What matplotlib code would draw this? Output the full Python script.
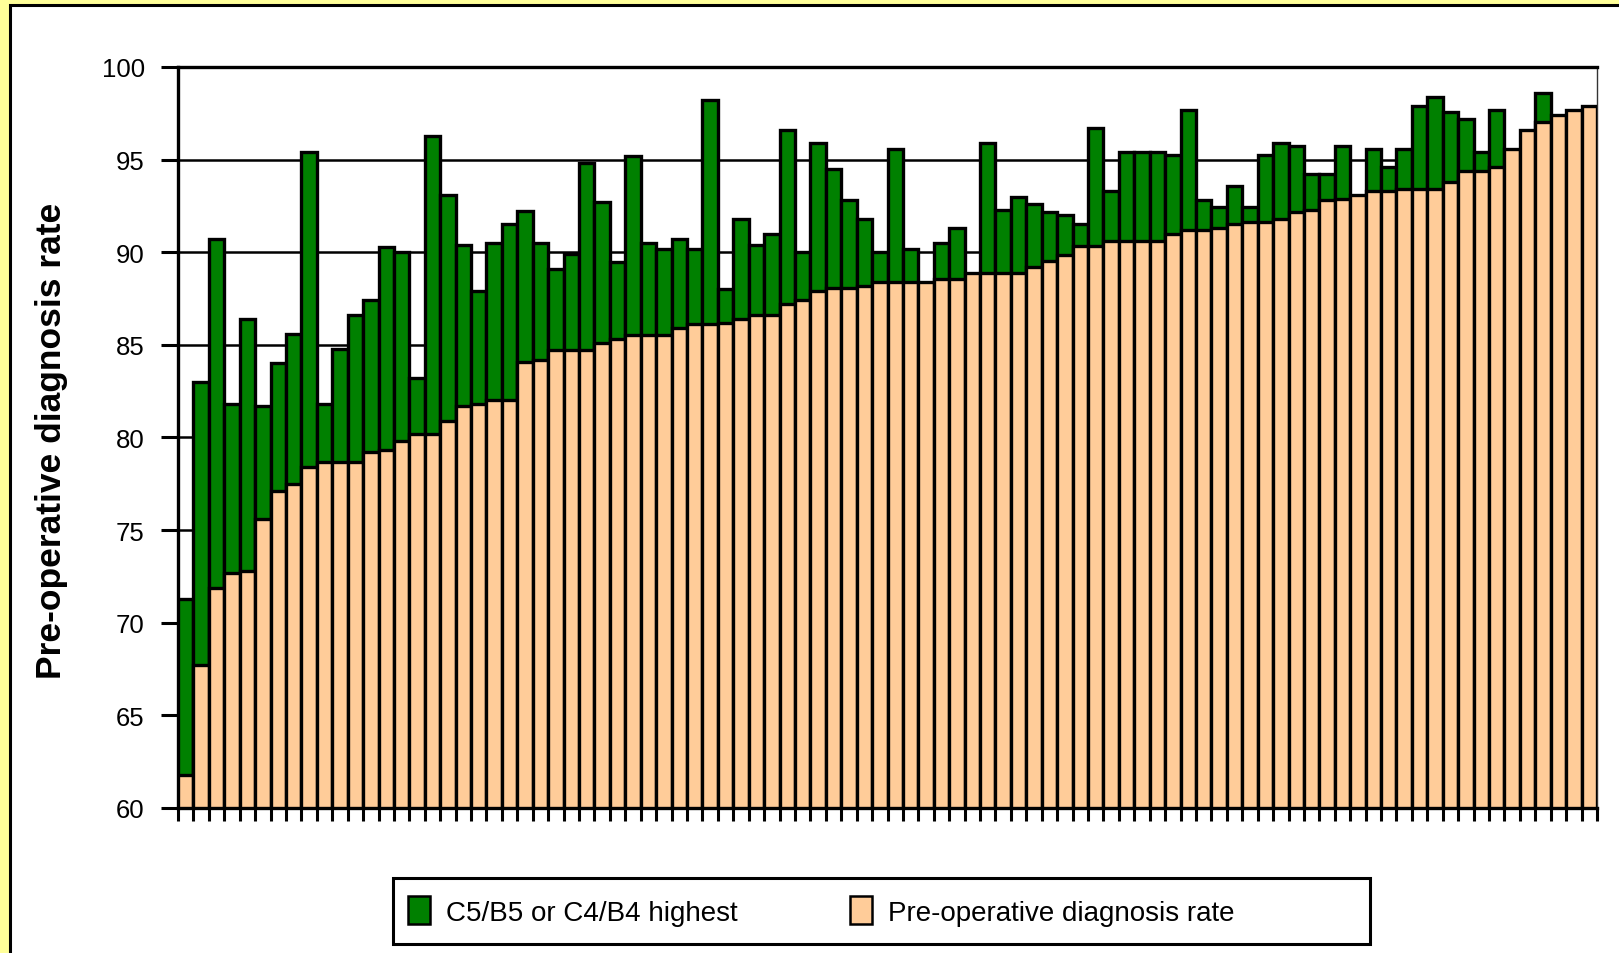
import numpy as np
import matplotlib
matplotlib.use("Agg")
import matplotlib.pyplot as plt
from matplotlib.patches import Patch, Rectangle

# Pre-operative diagnosis rate (orange) per unit, sorted ascending
preop_rate = [61.8, 67.7, 71.9, 72.7, 72.8, 75.6, 77.1, 77.5, 78.4, 78.7,
              78.7, 78.7, 79.2, 79.3, 79.8, 80.2, 80.2, 80.9, 81.7, 81.8,
              82.0, 82.0, 84.1, 84.2, 84.7, 84.7, 84.7, 85.1, 85.3, 85.55,
              85.55, 85.55, 85.9, 86.1, 86.1, 86.2, 86.4, 86.6, 86.6, 87.2,
              87.4, 87.9, 88.05, 88.05, 88.2, 88.4, 88.4, 88.4, 88.4, 88.55,
              88.55, 88.9, 88.9, 88.9, 88.9, 89.2, 89.55, 89.85, 90.35, 90.35,
              90.6, 90.6, 90.6, 90.6, 91.0, 91.2, 91.2, 91.3, 91.5, 91.65,
              91.65, 91.8, 92.15, 92.3, 92.8, 92.9, 93.1, 93.3, 93.3, 93.4,
              93.4, 93.4, 93.8, 94.4, 94.4, 94.6, 95.6, 96.6, 97.05, 97.4,
              97.7, 97.9]

# C5/B5 or C4/B4 highest (green, total height); nan = not shown
c5b5_highest = [71.3, 83.0, 90.7, 81.8, 86.4, 81.7, 84.0, 85.6, 95.4, 81.8,
                84.8, 86.6, 87.4, 90.3, 90.0, 83.2, 96.3, 93.1, 90.4, 87.9,
                90.5, 91.5, 92.2, 90.5, 89.1, 89.9, 94.8, 92.7, 89.5, 95.2,
                90.5, 90.2, 90.7, 90.2, 98.2, 88.0, 91.8, 90.4, 91.0, 96.6,
                90.0, 95.9, 94.5, 92.8, 91.8, 90.0, 95.6, 90.2, np.nan, 90.5,
                91.3, np.nan, 95.9, 92.3, 93.0, 92.6, 92.15, 92.0, 91.5, 96.7,
                93.3, 95.4, 95.4, 95.4, 95.25, 97.7, 92.8, 92.45, 93.6, 92.45,
                95.25, 95.9, 95.75, 94.25, 94.25, 95.75, np.nan, 95.6, 94.6, 95.6,
                97.9, 98.4, 97.55, 97.2, 95.4, 97.7, np.nan, np.nan, 98.6, np.nan,
                np.nan, np.nan]

yticks = [60, 65, 70, 75, 80, 85, 90, 95, 100]
legend_labels = ["C5/B5 or C4/B4 highest", "Pre-operative diagnosis rate"]
ylabel = "Pre-operative diagnosis rate"

GREEN = "#008000"
ORANGE = "#FFCC99"
YELLOW = "#FFFF99"

plt.rcParams['font.family'] = ['Liberation Sans', 'DejaVu Sans']

W, H = 1619, 954
fig = plt.figure(figsize=(W / 100, H / 100), dpi=100)
fig.patch.set_facecolor(YELLOW)

# white inner panel with black border
panel = Rectangle((9.5 / W, -0.05), 1.1, 1.05 - 5.5 / H,
                  transform=fig.transFigure, facecolor="white",
                  edgecolor="black", linewidth=2.2, zorder=-10)
fig.patches.append(panel)

ax = fig.add_axes([178 / W, 1 - 809 / H, (1597 - 178) / W, (809 - 68) / H])
ax.set_zorder(1)
ax.set_facecolor("white")

n = len(preop_rate)
x = np.arange(n)
base = 60
green = np.array(c5b5_highest, dtype=float)
orange = np.array(preop_rate, dtype=float)
mask = ~np.isnan(green)

ax.bar(x[mask], green[mask] - base, bottom=base, width=1.0, align='edge',
       color=GREEN, edgecolor="black", linewidth=2.4, zorder=3)
ax.bar(x, orange - base, bottom=base, width=1.0, align='edge',
       color=ORANGE, edgecolor="black", linewidth=2.4, zorder=4)

ax.set_xlim(0, n)
ax.set_ylim(60, 100)
ax.set_yticks(yticks)
ax.set_yticklabels([str(v) for v in yticks], fontsize=18.5)
ax.set_xticks(np.arange(n + 1))
ax.set_xticklabels([])
ax.tick_params(axis='x', direction='out', length=9, width=2.2, color='black')
ax.tick_params(axis='y', direction='out', length=12, width=2.2, pad=12, color='black')

ax.yaxis.grid(True, color='black', linewidth=1.8, zorder=1)
ax.set_axisbelow(True)

for s in ['left', 'bottom', 'top']:
    ax.spines[s].set_linewidth(2.4)
    ax.spines[s].set_color('black')
ax.spines['right'].set_linewidth(1.0)
ax.spines['right'].set_color('#333333')

fig.text(52 / W, 1 - 441 / H, ylabel, rotation=90, ha='center', va='center',
         fontsize=25.5, fontweight='bold')

# legend frame
frame = Rectangle((393 / W, 1 - 945 / H), (1370 - 393) / W, 66 / H,
                  transform=fig.transFigure, facecolor='white',
                  edgecolor='black', linewidth=2.2, zorder=2)
fig.patches.append(frame)

colors = [GREEN, ORANGE]
entry_x = [408, 850]
for lab, col, ex in zip(legend_labels, colors, entry_x):
    h = Patch(facecolor=col, edgecolor='black', linewidth=1.8)
    lg = fig.legend([h], [lab], loc='center left',
                    bbox_to_anchor=(ex / W, 1 - 912 / H),
                    fontsize=20, frameon=False, borderpad=0.0,
                    borderaxespad=0.0, handlelength=0.8, handleheight=1.15,
                    handletextpad=0.55)
    lg.set_zorder(3)

fig.savefig("out.png", dpi=100, facecolor=fig.get_facecolor())
